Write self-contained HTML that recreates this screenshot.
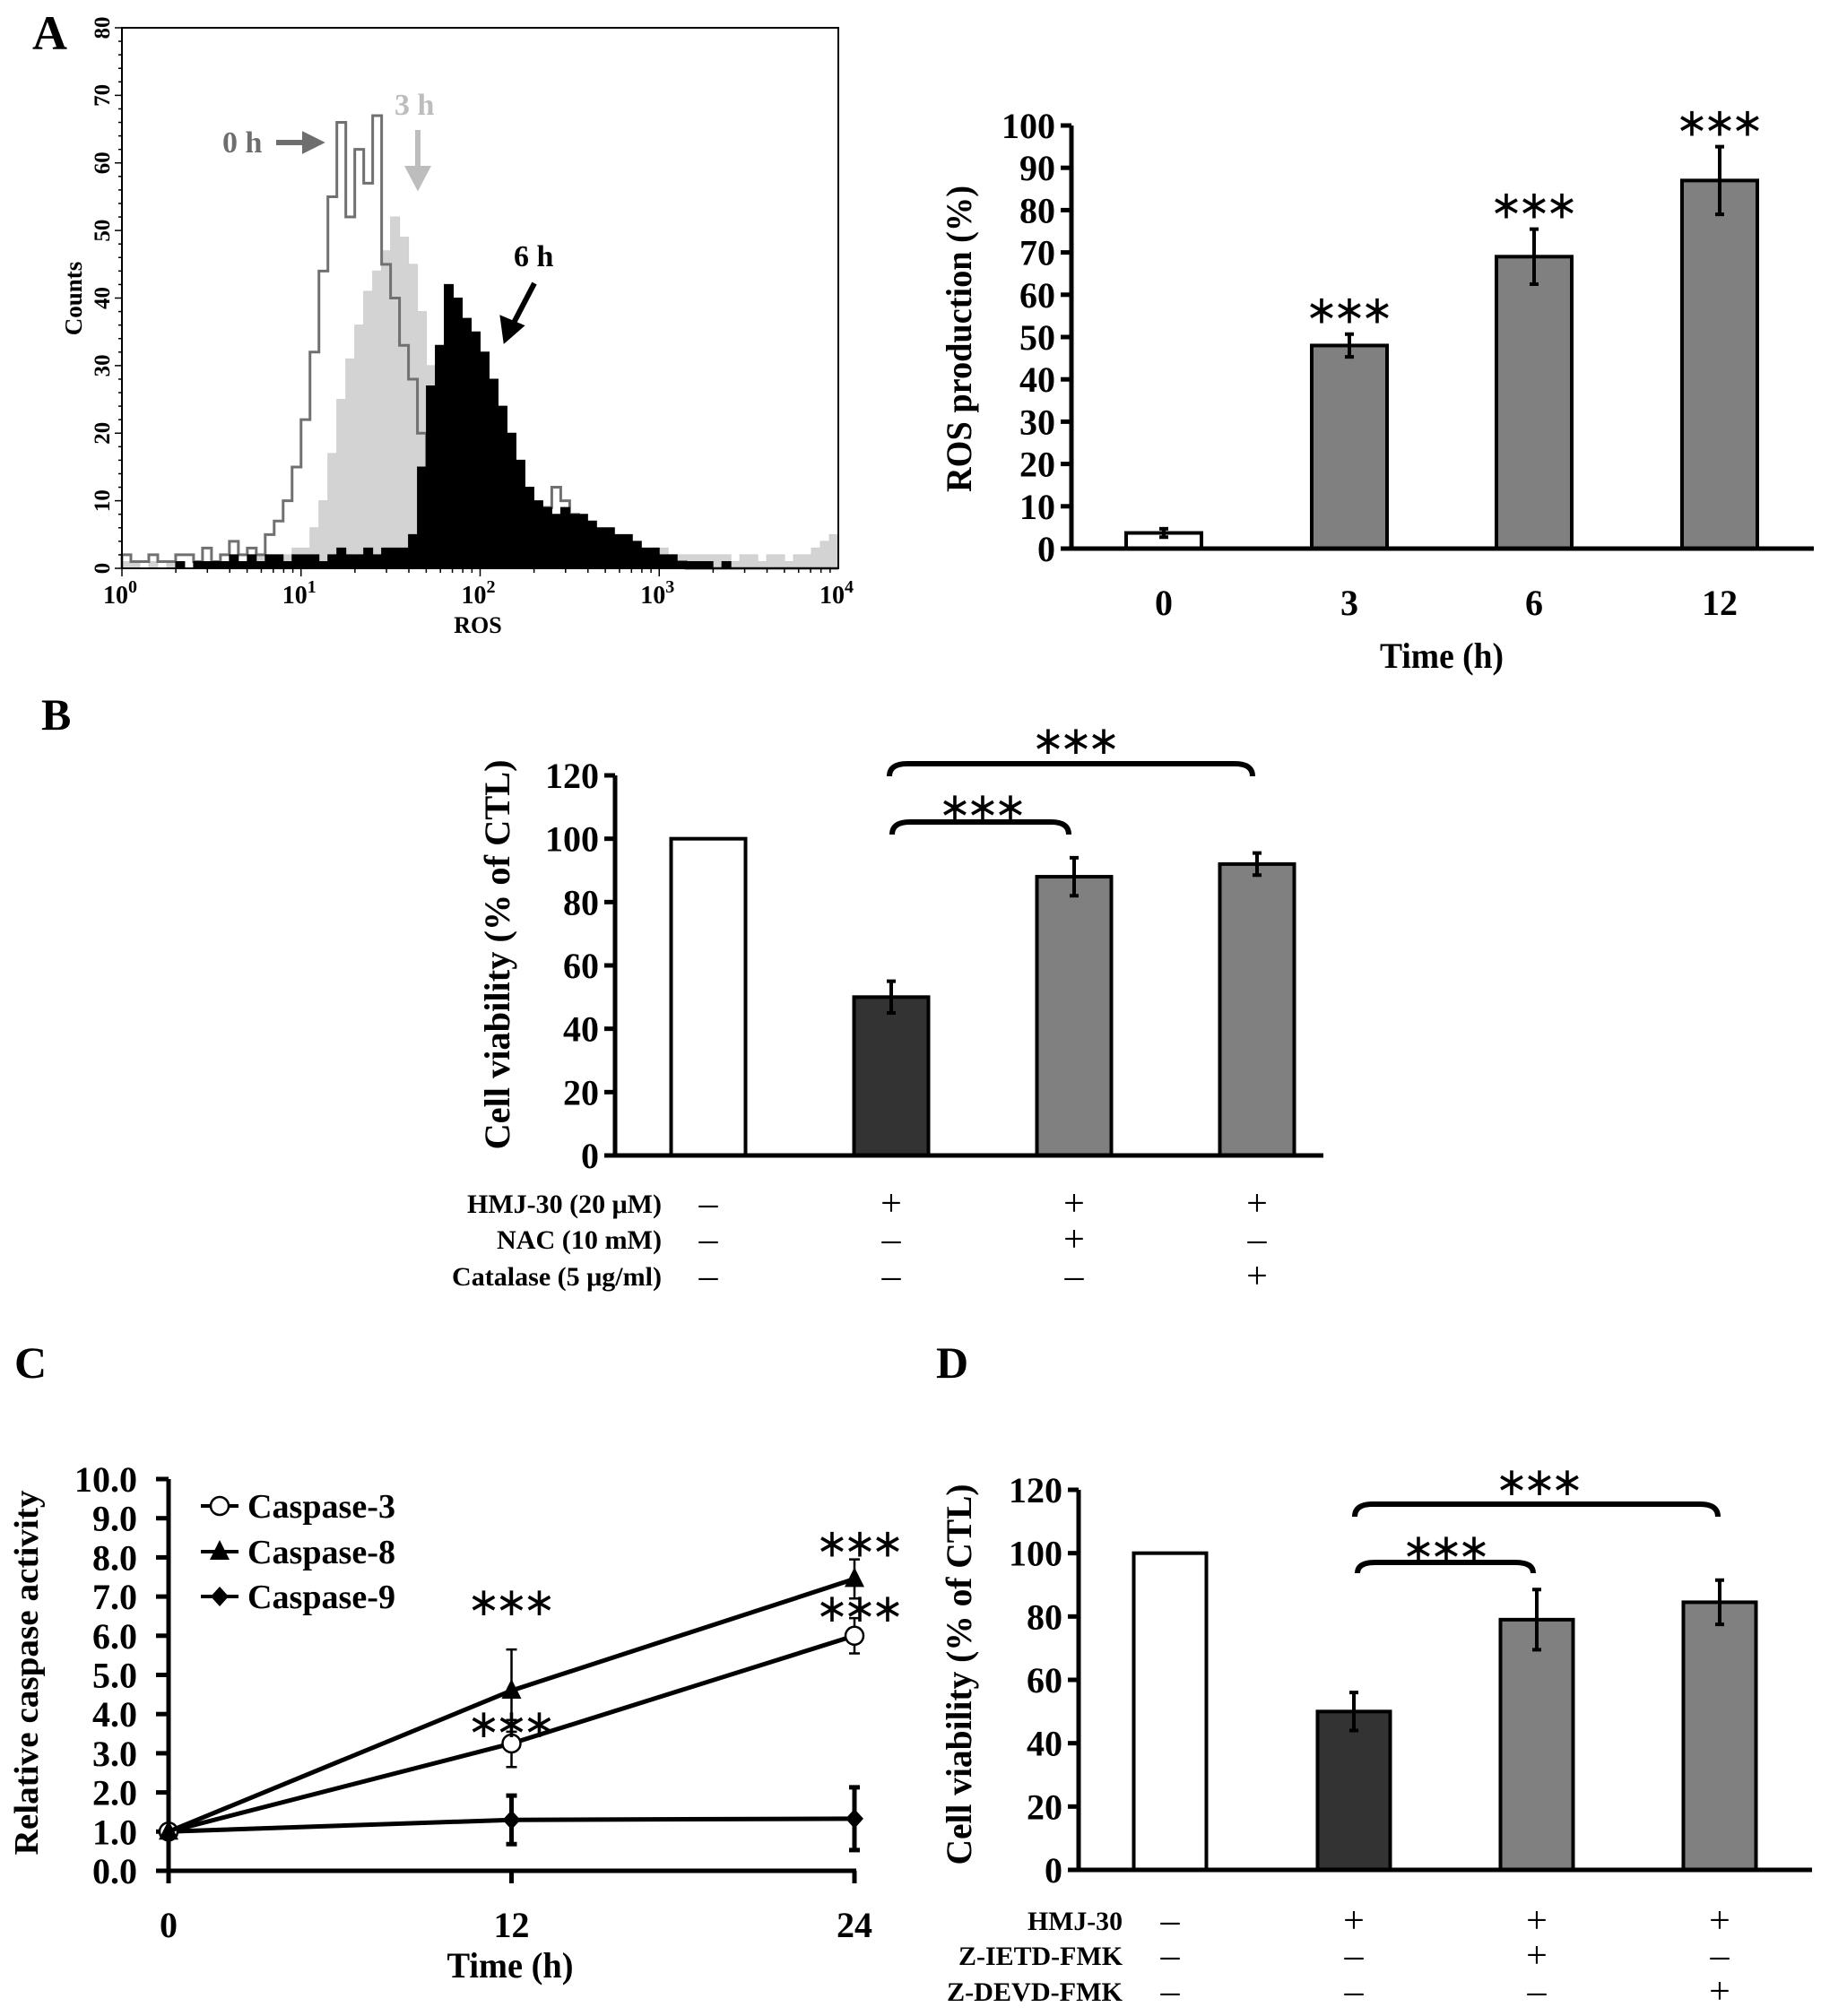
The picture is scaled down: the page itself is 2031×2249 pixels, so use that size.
<!DOCTYPE html>
<html><head><meta charset="utf-8"><style>
html,body{margin:0;padding:0;background:#fff;}
svg{display:block;}
text{font-family:"Liberation Serif",serif;font-weight:bold;}
.star{font-family:"DejaVu Sans",sans-serif;font-weight:normal;}
</style></head><body>
<svg id="fig" xmlns="http://www.w3.org/2000/svg" width="2031" height="2249" viewBox="0 0 2031 2249">
<rect x="0" y="0" width="2031" height="2249" fill="#fff"/>
<text x="36" y="55" font-size="54">A</text>
<text x="46" y="814" font-size="50">B</text>
<text x="16" y="1537" font-size="50">C</text>
<text x="1044" y="1537" font-size="50">D</text>

<g id="hist"></g>
<g id="rosbar"></g>
<g id="viabB"></g>
<g id="casp"></g>
<g id="viabD"></g>
</svg>
<script>
// ---------- Panel A histogram data (counts per log bin of width 0.05 decades) ----------
const histBinWidth = 0.05;
const hist0h = [2,1,1,2,1,1,2,2,1,3, 1,2,4,2,3,2,5,7,10,15, 22,32,44,55,66,52,62,57,67,45, 40,33,28,20,12,6,3,2,2,3, 2,2,2,3,4,5,7,9,12,10, 8,6,5,4,3,3,2,2,1,1, 1,1,1,0,0,0,0,0,0,0, 0,0,0,0,0,0,0,0,0,0];
const hist3h = [1,1,0,1,0,1,1,0,1,1, 1,0,1,1,1,2,2,1,2,3, 3,6,10,17,25,31,36,41,44,47, 52,49,45,38,30,25,22,18,15,13, 12,11,10,9,9,8,8,7,7,6, 6,6,5,5,5,4,4,4,3,3, 3,2,2,2,2,2,2,2,1,2, 2,1,2,2,1,2,2,3,4,5];
const hist6h = [0,0,0,0,0,0,1,0,1,1, 1,1,2,1,2,1,2,2,1,2, 2,2,1,2,3,2,2,3,2,3, 3,3,5,15,27,33,42,40,37,35, 32,28,24,20,16,12,10,9,8,9, 8,8,7,6,6,5,5,4,3,3, 2,2,1,1,1,1,0,1,0,0, 0,0,0,0,0,0,0,0,0,0];
const histYTicks = [0,10,20,30,40,50,60,70,80];
const histXDecades = [0,1,2,3,4];

// ---------- Panel A right: ROS production ----------
const rosCats = ["0","3","6","12"];
const rosVals = [3.7,48,69,87];
const rosErr = [1,2.7,6.5,8];
const rosSig = [false,true,true,true];
const rosTicks = [0,10,20,30,40,50,60,70,80,90,100];

// ---------- Panel B ----------
const bVals = [100,50,88,92];
const bErr = [0,5,6,3.5];
const bRowLabels = ["HMJ-30 (20 μM)","NAC (10 mM)","Catalase (5 μg/ml)"];
const bSigns = [["–","+","+","+"],["–","–","+","–"],["–","–","–","+"]];
const bTicks = [0,20,40,60,80,100,120];

// ---------- Panel C ----------
const cTimes = [0,12,24];
const casp3 = [1,3.25,6.0];
const casp3Err = [0,0.6,0.45];
const casp8 = [1,4.6,7.45];
const casp8Err = [0,1.05,0.5];
const casp9 = [1,1.3,1.33];
const casp9Err = [0,0.62,0.8];
const cTicks = [0,1,2,3,4,5,6,7,8,9,10];

// ---------- Panel D ----------
const dVals = [100,50,79,84.5];
const dErr = [0,6,9.5,7];
const dRowLabels = ["HMJ-30","Z-IETD-FMK","Z-DEVD-FMK"];
const dSigns = [["–","+","+","+"],["–","–","+","–"],["–","–","–","+"]];
const dTicks = [0,20,40,60,80,100,120];

const NS = "http://www.w3.org/2000/svg";
function mk(parent, tag, attrs, txt){
  const e = document.createElementNS(NS, tag);
  for (const k in attrs) e.setAttribute(k, attrs[k]);
  if (txt !== undefined) e.textContent = txt;
  parent.appendChild(e);
  return e;
}
let el;

// ===== Histogram =====
(function(){
  const g = document.getElementById('hist');
  const L=136,R=935,T=31,B=634;
  const hx = d => L + d*(R-L)/4;
  const hy = c => B - c*(B-T)/80;
  function stepPath(arr, close){
    let d = "M"+hx(0)+","+hy(0);
    arr.forEach((v,i)=>{ d += " L"+hx(i*histBinWidth)+","+hy(v)+" L"+hx((i+1)*histBinWidth)+","+hy(v); });
    if (close) d += " L"+hx(arr.length*histBinWidth)+","+hy(0)+" Z";
    return d;
  }
  el = mk(g,'path',{d:stepPath(hist3h,true),fill:'#d3d3d3',stroke:'#cfcfcf','stroke-width':1});
  
  
  el = mk(g,'path',{d:stepPath(hist0h,false),fill:'none',stroke:'#707070','stroke-width':3});
  
  
  el = mk(g,'path',{d:stepPath(hist6h,true),fill:'#000',stroke:'#000','stroke-width':1});
  
  
  el = mk(g,'rect',{x:L,y:T,width:R-L,height:B-T,fill:'none',stroke:'#000','stroke-width':2});
  
  
  for (let c=0;c<=80;c+=2){
    const major = c%10===0;
    el = mk(g,'line',{x1:L-(major?8:4),x2:L,y1:hy(c),y2:hy(c),stroke:'#000','stroke-width':1.5});
    
    
  }
  histYTicks.forEach(c=>{
    el = mk(g,'text',{x:0,y:0,'font-size':25,'text-anchor':'middle',transform:'translate(122,'+hy(c)+') rotate(-90)'},String(c));
    
    
  });
  for (let d=0; d<4; d++){
    for (let m=1;m<10;m++){
      const x = hx(d+Math.log10(m));
      el = mk(g,'line',{x1:x,x2:x,y1:B,y2:B+(m===1?9:5),stroke:'#000','stroke-width':1.5});
      
      
    }
  }
  histXDecades.forEach(d=>{
    const t = mk(g,'text',{x:hx(d)-2,y:673,'font-size':28,'text-anchor':'middle'});
    
    
    mk(t,'tspan',{},'10');
    mk(t,'tspan',{dy:-12,'font-size':20},String(d));
  });
  el = mk(g,'text',{x:533,y:706,'font-size':26,'text-anchor':'middle'},'ROS');
  
  
  el = mk(g,'text',{x:0,y:0,'font-size':27,'text-anchor':'middle',transform:'translate(91,333) rotate(-90)'},'Counts');
  
  
  el = mk(g,'text',{x:248,y:170,'font-size':34,style:'fill:#6e6e6e'},'0 h');
  
  
  el = mk(g,'path',{d:'M308,159 L340,159 L340,151 L356,159 L340,167 L340,159 Z',fill:'#6e6e6e',stroke:'#6e6e6e','stroke-width':6});
  
  
  el = mk(g,'text',{x:440,y:128,'font-size':34,style:'fill:#bdbdbd'},'3 h');
  
  
  el = mk(g,'path',{d:'M466,145 L466,190 M456,188 L466,207 L476,188 Z',fill:'#bdbdbd',stroke:'#bdbdbd','stroke-width':6});
  
  
  el = mk(g,'text',{x:573,y:297,'font-size':34},'6 h');
  
  
  el = mk(g,'path',{d:'M596,316 L572,362 M561,356 L564,378 L580,364 Z',fill:'#000',stroke:'#000','stroke-width':6});
  
  
})();

// three spaced asterisks centred at (x, cy)
function stars(g, x, cy, name){
  const t = mk(g,'text',{x:x,y:cy+14,'font-size':44,'text-anchor':'middle','class':'star'});
  
  
  [-31,0,31].forEach(dx=>{ mk(t,'tspan',{x:x+dx},'∗'); });
}

// ===== generic bar chart =====
function barChart(gid, opt){
  const g = document.getElementById(gid);
  const y = v => opt.y0 - v*(opt.y0-opt.yTop)/opt.vmax;
  opt.vals.forEach((v,i)=>{
    const cx = opt.centers[i];
    el = mk(g,'rect',{x:cx-opt.bw/2,y:y(v),width:opt.bw,height:opt.y0-y(v),fill:opt.fills[i],stroke:'#000','stroke-width':4});
    
    
    if (opt.err[i]>0){
      const e1=y(v+opt.err[i]), e2=y(v-opt.err[i]);
      el = mk(g,'path',{d:'M'+cx+','+e1+' L'+cx+','+e2+' M'+(cx-5)+','+e1+' L'+(cx+5)+','+e1+' M'+(cx-5)+','+e2+' L'+(cx+5)+','+e2,stroke:'#000','stroke-width':4,fill:'none'});
      
      
    }
    if (opt.sig && opt.sig[i]){
      stars(g, cx, y(v+opt.err[i])-26, 'significance-stars-'+i);
    }
  });
  el = mk(g,'line',{x1:opt.axisX,x2:opt.axisX,y1:opt.yTop,y2:opt.y0,stroke:'#000','stroke-width':5});
  
  
  el = mk(g,'line',{x1:opt.axisX-12,x2:opt.xEnd,y1:opt.y0,y2:opt.y0,stroke:'#000','stroke-width':5});
  
  
  opt.ticks.forEach(t=>{
    el = mk(g,'line',{x1:opt.axisX-12,x2:opt.axisX,y1:y(t),y2:y(t),stroke:'#000','stroke-width':5});
    
    
    el = mk(g,'text',{x:opt.axisX-18,y:y(t)+14,'font-size':40,'text-anchor':'end'},String(t));
    
    
  });
  el = mk(g,'text',{x:0,y:0,'font-size':40,'text-anchor':'middle',textLength:opt.ylabLen,lengthAdjust:'spacingAndGlyphs',transform:'translate('+(opt.ylabX+14)+','+opt.ylabY+') rotate(-90)'},opt.ylab);
  
  
  return y;
}

// Panel A right
(function(){
  const g = document.getElementById('rosbar');
  barChart('rosbar',{vals:rosVals,err:rosErr,sig:rosSig,centers:[1298,1505,1711,1918],bw:84,fills:['#fff','#808080','#808080','#808080'],
    y0:612,yTop:140,vmax:100,ticks:rosTicks,axisX:1195,xEnd:2023,ylab:'ROS production (%)',ylabX:1069,ylabY:378,ylabLen:342});
  rosCats.forEach((c,i)=>{
    el = mk(g,'text',{x:[1298,1505,1711,1918][i],y:686,'font-size':40,'text-anchor':'middle'},c);
    
    
  });
  el = mk(g,'text',{x:1608,y:745,'font-size':40,'text-anchor':'middle',textLength:138,lengthAdjust:'spacingAndGlyphs'},'Time (h)');
  
  
})();

function bracket(g, x1, x2, top, end, starX, starY, name){
  el = mk(g,'path',{d:'M'+x1+','+end+' Q'+x1+','+top+' '+(x1+20)+','+top+' L'+(x2-20)+','+top+' Q'+x2+','+top+' '+x2+','+end,fill:'none',stroke:'#000','stroke-width':6});
  
  
  stars(g, starX, starY, name+'-stars');
}
function condTable(g, labels, signs, centers, rowsY, labelX, lens){
  labels.forEach((l,r)=>{
    el = mk(g,'text',{x:labelX,y:rowsY[r]+10,'font-size':30,'text-anchor':'end',textLength:lens[r],lengthAdjust:'spacingAndGlyphs'},l);
    
    
    signs[r].forEach((s,i)=>{
      el = mk(g,'text',{x:centers[i],y:rowsY[r]+13,'font-size':42,'text-anchor':'middle',style:'font-weight:normal'},s);
      
      
    });
  });
}

// Panel B
(function(){
  const g = document.getElementById('viabB');
  const centers=[790,994,1198,1402];
  barChart('viabB',{vals:bVals,err:bErr,centers:centers,bw:83,fills:['#fff','#333','#808080','#808080'],
    y0:1289,yTop:865,vmax:120,ticks:bTicks,axisX:686,xEnd:1476,ylab:'Cell viability  (% of CTL)',ylabX:554,ylabY:1065,ylabLen:435});
  bracket(g,992,1397,852,866,1200,827,'bracket-hmj-vs-catalase');
  bracket(g,995,1192,917,931,1096,901,'bracket-hmj-vs-nac');
  condTable(g,bRowLabels,bSigns,centers,[1343,1383,1424],738,[217,184,234]);
})();

// Panel D
(function(){
  const g = document.getElementById('viabD');
  const centers=[1305,1510,1714,1918];
  barChart('viabD',{vals:dVals,err:dErr,centers:centers,bw:81,fills:['#fff','#333','#808080','#808080'],
    y0:2086,yTop:1662,vmax:120,ticks:dTicks,axisX:1203,xEnd:2021,ylab:'Cell viability (% of CTL)',ylabX:1069,ylabY:1868,ylabLen:425});
  bracket(g,1511,1916,1678,1692,1717,1654,'bracket-hmj-vs-devd');
  bracket(g,1514,1710,1743,1755,1613,1728,'bracket-hmj-vs-ietd');
  condTable(g,dRowLabels,dSigns,centers,[2143,2182,2222],1252,[106,183,196]);
})();

// Panel C
(function(){
  const g = document.getElementById('casp');
  const x = t => 188 + t*(953-188)/24;
  const y = v => 2087 - v*(2087-1650)/10;
  el = mk(g,'line',{x1:188,x2:188,y1:1650,y2:2087,stroke:'#000','stroke-width':5});
  
  
  el = mk(g,'line',{x1:174,x2:955,y1:2087,y2:2087,stroke:'#000','stroke-width':5});
  
  
  cTicks.forEach(t=>{
    el = mk(g,'line',{x1:174,x2:188,y1:y(t),y2:y(t),stroke:'#000','stroke-width':5});
    
    
    el = mk(g,'text',{x:153,y:y(t)+14,'font-size':40,'text-anchor':'end'},t.toFixed(1));
    
    
  });
  cTimes.forEach(t=>{
    el = mk(g,'line',{x1:x(t),x2:x(t),y1:2087,y2:2101,stroke:'#000','stroke-width':5});
    
    
    el = mk(g,'text',{x:x(t),y:2161,'font-size':40,'text-anchor':'middle'},String(t));
    
    
  });
  el = mk(g,'text',{x:569,y:2206,'font-size':40,'text-anchor':'middle',textLength:141,lengthAdjust:'spacingAndGlyphs'},'Time (h)');
  
  
  el = mk(g,'text',{x:0,y:0,'font-size':38,'text-anchor':'middle',textLength:407,lengthAdjust:'spacingAndGlyphs',transform:'translate(42,1866) rotate(-90)'},'Relative caspase activity');
  
  
  function series(vals, errs, name, ew, marker){
    const pts = vals.map((v,i)=>x(cTimes[i])+','+y(v)).join(' ');
    el = mk(g,'polyline',{points:pts,fill:'none',stroke:'#000','stroke-width':5});
    
    
    vals.forEach((v,i)=>{
      if (errs[i]>0){
        const cx=x(cTimes[i]), e1=y(v+errs[i]), e2=y(v-errs[i]);
        el = mk(g,'path',{d:'M'+cx+','+e1+' L'+cx+','+e2+' M'+(cx-6)+','+e1+' L'+(cx+6)+','+e1+' M'+(cx-6)+','+e2+' L'+(cx+6)+','+e2,stroke:'#000','stroke-width':ew,fill:'none'});
        
        
      }
    });
    vals.forEach((v,i)=>{
      el = marker(x(cTimes[i]), y(v));
      
      
    });
  }
  const circ=(cx,cy)=>mk(g,'circle',{cx:cx,cy:cy,r:10,fill:'#fff',stroke:'#000','stroke-width':2.5});
  const tri=(cx,cy)=>mk(g,'path',{d:'M'+cx+','+(cy-13)+' L'+(cx+11)+','+(cy+9)+' L'+(cx-11)+','+(cy+9)+' Z',fill:'#000'});
  const dia=(cx,cy)=>mk(g,'path',{d:'M'+cx+','+(cy-11)+' L'+(cx+10)+','+cy+' L'+cx+','+(cy+11)+' L'+(cx-10)+','+cy+' Z',fill:'#000'});
  series(casp9,casp9Err,'caspase-9',5,dia);
  series(casp3,casp3Err,'caspase-3',2.5,circ);
  series(casp8,casp8Err,'caspase-8',2.5,tri);
  // significance stars
  stars(g, x(12), y(casp8[1]+casp8Err[1])-52, 'significance-stars-c8-12h');
  stars(g, x(12), y(casp3[1])-21, 'significance-stars-c3-12h');
  stars(g, x(24)+6, y(casp8[2]+casp8Err[2])-17, 'significance-stars-c8-24h');
  stars(g, x(24)+6, y(casp3[2])-30, 'significance-stars-c3-24h');
  // legend
  const legY=[1680,1731,1781];
  const names=['Caspase-3','Caspase-8','Caspase-9'];
  const marks=[circ,tri,dia];
  names.forEach((n,i)=>{
    el = mk(g,'line',{x1:224,x2:266,y1:legY[i],y2:legY[i],stroke:'#000','stroke-width':4});
    
    
    el = marks[i](245,legY[i]);
    
    
    el = mk(g,'text',{x:276,y:legY[i]+13,'font-size':38,textLength:165,lengthAdjust:'spacingAndGlyphs'},n);
    
    
  });
})();
</script>
</body></html>
